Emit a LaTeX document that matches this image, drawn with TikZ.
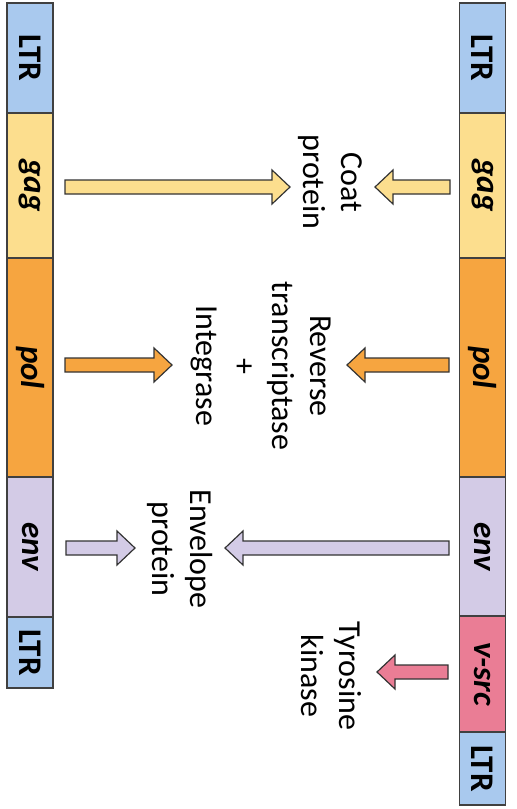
\documentclass[tikz,border=0pt]{standalone}
\usepackage{fontspec}
\setmainfont{Carlito}
\usetikzlibrary{positioning,calc}
\definecolor{ltrblue}{HTML}{A9C9EE}
\definecolor{gagyellow}{HTML}{FCDE8E}
\definecolor{polorange}{HTML}{F6A540}
\definecolor{envlilac}{HTML}{D3CBE6}
\definecolor{srcpink}{HTML}{EA7D95}
\tikzset{
  seg/.style={draw=black!75, line width=1.2pt, minimum width=46pt, inner sep=0pt, outer sep=0pt,
    font=\fontsize{33}{38}\selectfont\bfseries},
  lab/.style={rotate=-90, align=center, font=\fontsize{32}{38}\selectfont},
  blk/.style={draw=black!80, line width=1.2pt, line join=miter},
}
\newcommand\blockarrow[3]{%
  \draw[blk, fill=#1] let \p1=(#2), \p2=(#3), \n1={sign(\x2-\x1)} in
    (\x1,{\y1+7pt}) -- ({\x2-18pt*\n1},{\y1+7pt}) -- ({\x2-18pt*\n1},{\y1+17pt}) -- (\x2,\y1)
    -- ({\x2-18pt*\n1},{\y1-17pt}) -- ({\x2-18pt*\n1},{\y1-7pt}) -- (\x1,{\y1-7pt}) -- cycle;}
\begin{document}
\begin{tikzpicture}[x=1pt,y=-1pt]
\useasboundingbox (0,0) rectangle (517,809);
\node[seg, fill=ltrblue, minimum height=110pt, anchor=north] (lltrA) at (30,3) {\rotatebox{-90}{LTR}};
\node[seg, fill=gagyellow, minimum height=145pt, below=0pt of lltrA] (lgag) {\rotatebox{-90}{\itshape gag}};
\node[seg, fill=polorange, minimum height=219pt, below=0pt of lgag] (lpol) {\rotatebox{-90}{\itshape pol}};
\node[seg, fill=envlilac, minimum height=140pt, below=0pt of lpol] (lenv) {\rotatebox{-90}{\itshape env}};
\node[seg, fill=ltrblue, minimum height=71pt, below=0pt of lenv] (lltrB) {\rotatebox{-90}{LTR}};

\node[seg, fill=ltrblue, minimum height=110pt, anchor=north] (rltrA) at (482.5,3) {\rotatebox{-90}{LTR}};
\node[seg, fill=gagyellow, minimum height=145pt, below=0pt of rltrA] (rgag) {\rotatebox{-90}{\itshape gag}};
\node[seg, fill=polorange, minimum height=219pt, below=0pt of rgag] (rpol) {\rotatebox{-90}{\itshape pol}};
\node[seg, fill=envlilac, minimum height=139pt, below=0pt of rpol] (renv) {\rotatebox{-90}{\itshape env}};
\node[seg, fill=srcpink, minimum height=116pt, below=0pt of renv] (rsrc) {\rotatebox{-90}{\itshape v-src}};
\node[seg, fill=ltrblue, minimum height=73pt, below=0pt of rsrc] (rltrB) {\rotatebox{-90}{LTR}};

\node[lab] (coat) at (330,182) {Coat\\protein};
\node[lab] (revtr) at (261,366) {Reverse\\transcriptase\\+\\Integrase};
\node[lab] (envprot) at (180,549) {Envelope\\protein};
\node[lab] (tyrkin) at (331,676) {Tyrosine\\kinase};

\coordinate (gag-l) at (65,187);   \coordinate (coat-l) at (290,187);
\coordinate (gag-r) at (450,187);  \coordinate (coat-r) at (375,187);
\coordinate (pol-l) at (65,365);   \coordinate (revtr-l) at (172,365);
\coordinate (pol-r) at (449,365);  \coordinate (revtr-r) at (347,365);
\coordinate (env-l) at (66,548);   \coordinate (envprot-l) at (135,548);
\coordinate (env-r) at (449,548);  \coordinate (envprot-r) at (225,548);
\coordinate (src-r) at (448,672);  \coordinate (tyrkin-r) at (377,672);

\blockarrow{gagyellow}{gag-l}{coat-l}
\blockarrow{gagyellow}{gag-r}{coat-r}
\blockarrow{polorange}{pol-l}{revtr-l}
\blockarrow{polorange}{pol-r}{revtr-r}
\blockarrow{envlilac}{env-l}{envprot-l}
\blockarrow{envlilac}{env-r}{envprot-r}
\blockarrow{srcpink}{src-r}{tyrkin-r}
\end{tikzpicture}
\end{document}
